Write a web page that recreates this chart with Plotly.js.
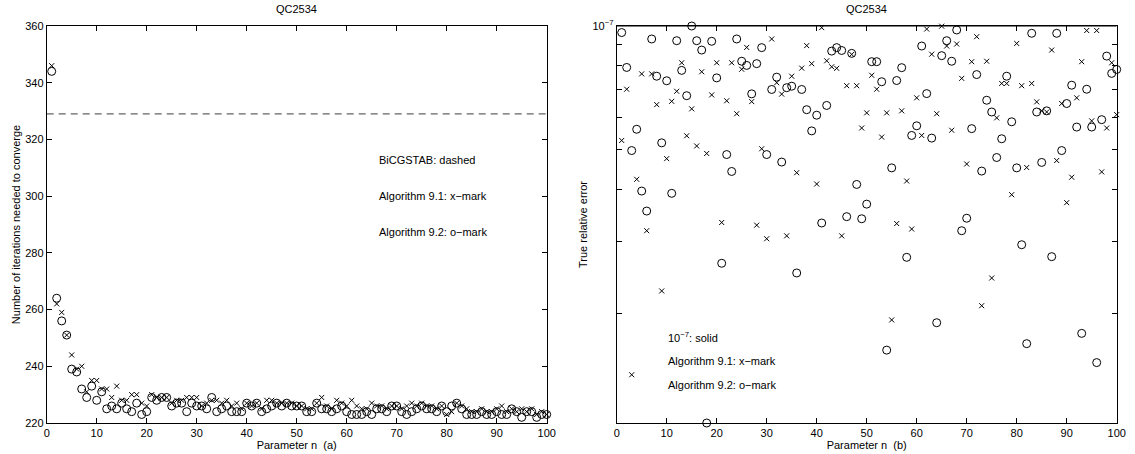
<!DOCTYPE html>
<html>
<head>
<meta charset="utf-8">
<script src="https://cdn.plot.ly/plotly-3.0.1.min.js"></script>
<style>
  html, body { margin: 0; padding: 0; background: #fff; }
  #chart { width: 1135px; height: 454px; }
</style>
</head>
<body>
<div id="chart"></div>
<script>
// ---------- data ----------
const nParam = Array.from({length: 100}, (_, i) => i + 1);

const bicgstabIters = 329;

// (a) iterations needed to converge
const itersAlg91 = [
  346,262,259,251,244,239,240,231,235,235,
  232,232,229,233,228,228,230,230,227,226,
  230,229,229,229,227,228,228,229,229,229,
  226,227,228,228,227,228,226,227,225,227,
  226,227,225,228,228,227,227,227,227,226,
  226,225,225,227,229,226,225,228,227,226,
  228,226,225,225,227,226,226,225,226,226,
  225,226,227,226,227,226,226,225,226,223,
  224,227,226,225,224,224,225,224,224,225,
  226,224,225,224,225,224,225,223,224,223
];
const itersAlg92 = [
  344,264,256,251,239,238,232,229,233,228,
  231,225,226,225,227,225,224,227,223,224,
  229,228,229,229,226,227,227,224,227,226,
  226,225,229,224,225,226,224,224,224,227,
  226,227,224,225,226,227,226,227,226,226,
  226,224,224,227,225,225,224,225,226,224,
  223,223,223,224,223,225,225,224,226,226,
  224,223,224,225,226,225,225,224,226,224,
  226,227,225,223,223,223,224,223,223,224,
  223,223,225,224,222,224,224,222,223,223
];

// (b) true relative error, in units of 1e-8
const errAlg91_e8 = [
  5.27,7.02,1.42,4.24,7.65,3.18,7.65,6.44,2.27,4.76,
  6.56,6.94,8.14,5.41,6.29,5.11,7.74,4.90,6.80,8.14,
  3.33,6.58,8.14,6.12,7.85,8.87,6.55,3.28,5.03,3.04,
  9.30,7.28,6.83,3.09,7.55,4.40,7.90,8.96,8.10,4.13,
  9.91,8.23,7.96,7.89,3.09,7.16,8.53,7.16,5.65,6.15,
  7.59,7.02,5.37,6.15,1.93,3.31,6.22,4.20,3.21,6.69,
  5.42,9.83,8.54,6.12,9.99,8.94,5.58,9.04,7.46,4.62,
  8.19,9.42,2.09,8.21,2.44,5.98,7.25,7.25,3.89,9.07,
  7.16,4.53,7.25,6.54,6.22,6.18,8.74,4.71,6.48,3.72,
  4.29,6.69,8.19,9.75,5.88,9.75,4.42,5.65,8.14,6.09
];
const errAlg92_e8 = [
  9.64,7.93,4.98,5.61,3.97,3.55,9.30,7.55,5.20,7.36,
  3.92,9.21,7.80,6.77,10.0,9.21,8.74,1.084,9.18,7.48,
  2.65,4.87,4.43,9.30,8.21,8.02,6.84,8.10,8.86,4.87,
  7.01,7.51,4.67,7.08,7.14,2.51,7.01,6.26,5.56,6.07,
  3.32,6.41,8.69,8.86,8.72,3.44,8.58,4.12,3.40,3.69,
  8.19,8.19,7.32,1.63,4.52,7.37,7.92,2.74,5.42,5.72,
  8.94,6.85,5.34,1.90,8.47,9.21,8.21,9.78,3.18,3.41,
  5.63,7.62,4.44,6.60,6.18,4.79,5.32,7.55,5.85,4.52,
  2.94,1.69,9.60,6.18,4.66,6.22,2.75,9.60,4.98,6.48,
  7.18,5.68,1.79,7.02,5.68,1.52,5.92,8.45,7.67,7.84
];
const tolerance = 1e-7;

const xTicks = [0,10,20,30,40,50,60,70,80,90,100];
const yTicksA = [220,240,260,280,300,320,340,360];
const yMajorB = [1e-7];
const yMajorTextB = ['10<sup>−7</sup>'];
const yMinorB = [2e-8,3e-8,4e-8,5e-8,6e-8,7e-8,8e-8,9e-8];

// ---------- derived ----------
const errAlg91 = errAlg91_e8.map(v => v * 1e-8);
const errAlg92 = errAlg92_e8.map(v => v * 1e-8);
const allErr = errAlg91.concat(errAlg92);
const errMin = Math.min(...allErr), errMax = Math.max(...allErr);

const W = 1135, H = 454;
const px = v => v / W;
const py = v => 1 - v / H;

const FONT = 'Liberation Sans, Arial, Helvetica, sans-serif';
const xMark = {symbol: 'x-thin-open', size: 5, color: '#000', line: {width: 1, color: '#000'}};
const oMark = {symbol: 'circle-open', size: 8, color: '#000', line: {width: 1, color: '#000'}};

const traces = [
  {x: [0, 100], y: [bicgstabIters, bicgstabIters], mode: 'lines', xaxis: 'x', yaxis: 'y',
   line: {color: '#3c3c3c', width: 1, dash: '7px,5px'}, hoverinfo: 'skip'},
  {x: nParam, y: itersAlg91, mode: 'markers', xaxis: 'x', yaxis: 'y', marker: xMark, cliponaxis: false},
  {x: nParam, y: itersAlg92, mode: 'markers', xaxis: 'x', yaxis: 'y', marker: oMark, cliponaxis: false},
  {x: [0, 100], y: [tolerance, tolerance], mode: 'lines', xaxis: 'x2', yaxis: 'y2',
   line: {color: '#000', width: 1}, hoverinfo: 'skip'},
  {x: nParam, y: errAlg91, mode: 'markers', xaxis: 'x2', yaxis: 'y2', marker: xMark, cliponaxis: false},
  {x: nParam, y: errAlg92, mode: 'markers', xaxis: 'x2', yaxis: 'y2', marker: oMark, cliponaxis: false}
];

const titleFont = {family: FONT, size: 11, color: '#000'};
const axisCommon = {
  showline: true, linecolor: '#000', linewidth: 1, mirror: 'ticks',
  ticks: 'inside', ticklen: 5, tickcolor: '#000', tickwidth: 1,
  showgrid: false, zeroline: false, automargin: false,
  tickfont: {family: FONT, size: 11, color: '#000'}
};

const yDom = [py(423), py(26)];

const layout = {
  width: W, height: H,
  margin: {l: 0, r: 0, t: 0, b: 0},
  paper_bgcolor: '#fff', plot_bgcolor: '#fff',
  showlegend: false,
  xaxis: Object.assign({}, axisCommon, {domain: [px(46.7), px(546.7)], range: [0, 100],
    tickvals: xTicks, anchor: 'y',
    title: {text: 'Parameter n  (a)', font: titleFont, standoff: 2}}),
  yaxis: Object.assign({}, axisCommon, {domain: yDom, range: [220, 360],
    tickvals: yTicksA, anchor: 'x',
    title: {text: 'Number of iterations needed to converge', font: titleFont, standoff: 2}}),
  xaxis2: Object.assign({}, axisCommon, {domain: [px(616.7), px(1116.7)], range: [0, 100],
    tickvals: xTicks, anchor: 'y2',
    title: {text: 'Parameter n  (b)', font: titleFont, standoff: 2}}),
  yaxis2: Object.assign({}, axisCommon, {domain: yDom, type: 'log',
    range: [Math.log10(errMin), Math.log10(errMax)],
    tickvals: yMajorB, ticktext: yMajorTextB, anchor: 'x2',
    minor: {tickmode: 'array', tickvals: yMinorB, ticks: 'inside', ticklen: 5,
            tickcolor: '#000', tickwidth: 1, showgrid: false},
    title: {text: 'True relative error', font: titleFont, standoff: 2}}),
  annotations: []
};

function ann(text, x, y, opts) {
  layout.annotations.push(Object.assign({
    text: text, xref: 'paper', yref: 'paper', x: px(x), y: py(y),
    showarrow: false, font: {family: FONT, size: 11, color: '#000'},
    xanchor: 'center', yanchor: 'middle'
  }, opts || {}));
}

ann('QC2534', 296.7, 9);
ann('QC2534', 866.7, 9);

ann('BiCGSTAB: dashed', 377, 160, {xanchor: 'left'});
ann('Algorithm 9.1: x−mark', 377, 196, {xanchor: 'left'});
ann('Algorithm 9.2: o−mark', 377, 232, {xanchor: 'left'});

ann('10<sup>−7</sup>: solid', 666, 337, {xanchor: 'left'});
ann('Algorithm 9.1: x−mark', 666, 361, {xanchor: 'left'});
ann('Algorithm 9.2: o−mark', 666, 385, {xanchor: 'left'});

Plotly.newPlot('chart', traces, layout, {staticPlot: true, displayModeBar: false});
</script>
</body>
</html>
